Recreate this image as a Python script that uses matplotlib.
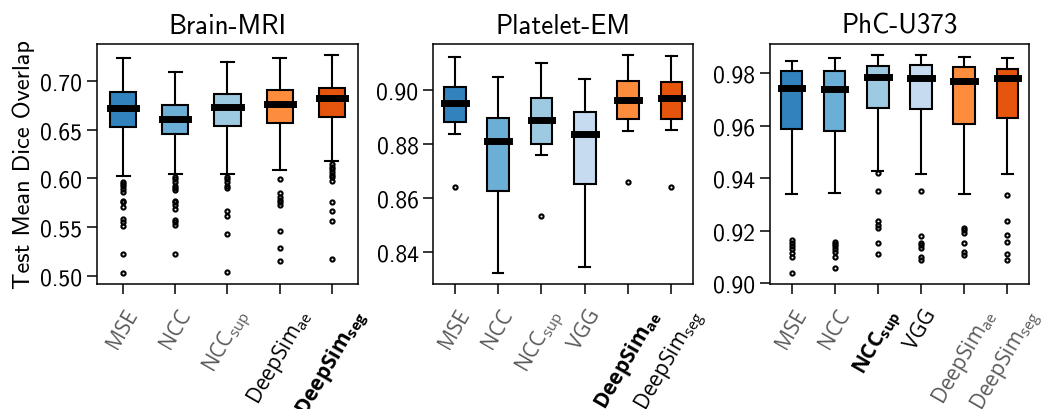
import matplotlib
matplotlib.use("Agg")
import matplotlib.pyplot as plt

plt.rcParams["font.family"] = ["cmss10", "DejaVu Sans"]
plt.rcParams["axes.formatter.use_mathtext"] = True
plt.rcParams["mathtext.fontset"] = "custom"
plt.rcParams["mathtext.rm"] = "Open Sans"
plt.rcParams["mathtext.bf"] = "Open Sans:bold"

# Box colours (tab20c blues / oranges).
colour_of = {
    "MSE": "#3182bd",
    "NCC": "#6baed6",
    "NCCsup": "#9ecae1",
    "VGG": "#c6dbef",
    "DeepSimae": "#fd8d3c",
    "DeepSimseg": "#e6550d",
}
label_of = {
    "MSE": "MSE",
    "NCC": "NCC",
    "NCCsup": r"$\mathrm{NCC}_{\mathrm{sup}}$",
    "VGG": "VGG",
    "DeepSimae": r"$\mathrm{DeepSim}_{\mathrm{ae}}$",
    "DeepSimseg": r"$\mathrm{DeepSim}_{\mathrm{seg}}$",
}
bold_label_of = {
    "NCCsup": r"$\mathbf{NCC}_{\mathbf{sup}}$",
    "DeepSimae": r"$\mathbf{DeepSim}_{\mathbf{ae}}$",
    "DeepSimseg": r"$\mathbf{DeepSim}_{\mathbf{seg}}$",
}
grey = "#5a5a5a"

# Brain-MRI
brain_methods = ["MSE", "NCC", "NCCsup", "DeepSimae", "DeepSimseg"]
brain_label_style = ["grey", "grey", "grey", "black", "bold"]
brain_yticks = [0.50, 0.55, 0.60, 0.65, 0.70]
brain_whishi = [0.7232, 0.7089, 0.7191, 0.7232, 0.7269]
brain_q3 = [0.6884, 0.6758, 0.6870, 0.6905, 0.6928]
brain_med = [0.6720, 0.6611, 0.6734, 0.6761, 0.6823]
brain_q1 = [0.6529, 0.6458, 0.6540, 0.6567, 0.6628]
brain_whislo = [0.6028, 0.6045, 0.6045, 0.6086, 0.6178]
brain_fliers = [
    [0.5967, 0.5943, 0.5919, 0.5892, 0.5864, 0.5772, 0.5755, 0.5711, 0.5581, 0.5558, 0.5510, 0.5223, 0.5029],
    [0.6018, 0.5994, 0.5967, 0.5926, 0.5899, 0.5885, 0.5772, 0.5755, 0.5728, 0.5684, 0.5575, 0.5551, 0.5520, 0.5223],
    [0.6018, 0.5994, 0.5960, 0.5926, 0.5902, 0.5670, 0.5612, 0.5431, 0.5039],
    [0.5994, 0.5851, 0.5806, 0.5782, 0.5755, 0.5728, 0.5462, 0.5285, 0.5148],
    [0.6151, 0.6123, 0.6096, 0.6069, 0.6035, 0.6011, 0.5977, 0.5755, 0.5670, 0.5568, 0.5169],
]

# Platelet-EM
platelet_methods = ["MSE", "NCC", "NCCsup", "VGG", "DeepSimae", "DeepSimseg"]
platelet_label_style = ["grey", "grey", "grey", "grey", "bold", "black"]
platelet_yticks = [0.84, 0.86, 0.88, 0.90]
platelet_whishi = [0.9124, 0.9050, 0.9101, 0.9043, 0.9132, 0.9129]
platelet_q3 = [0.9014, 0.8899, 0.8972, 0.8919, 0.9034, 0.9030]
platelet_med = [0.8952, 0.8811, 0.8891, 0.8838, 0.8963, 0.8973]
platelet_q1 = [0.8884, 0.8627, 0.8800, 0.8655, 0.8895, 0.8894]
platelet_whislo = [0.8839, 0.8323, 0.8761, 0.8345, 0.8850, 0.8855]
platelet_fliers = [[0.8643], [], [0.8535], [], [0.8661], [0.8643]]

# PhC-U373
phc_methods = ["MSE", "NCC", "NCCsup", "VGG", "DeepSimae", "DeepSimseg"]
phc_label_style = ["grey", "grey", "bold", "black", "grey", "grey"]
phc_yticks = [0.90, 0.92, 0.94, 0.96, 0.98]
phc_whishi = [0.9847, 0.9860, 0.9870, 0.9868, 0.9861, 0.9858]
phc_q3 = [0.9809, 0.9808, 0.9829, 0.9832, 0.9822, 0.9815]
phc_med = [0.9745, 0.9739, 0.9784, 0.9782, 0.9772, 0.9781]
phc_q1 = [0.9588, 0.9581, 0.9667, 0.9663, 0.9605, 0.9628]
phc_whislo = [0.9340, 0.9342, 0.9427, 0.9417, 0.9339, 0.9416]
phc_fliers = [
    [0.9166, 0.9153, 0.9140, 0.9128, 0.9115, 0.9099, 0.9038],
    [0.9158, 0.9150, 0.9140, 0.9131, 0.9120, 0.9100, 0.9057],
    [0.9418, 0.9352, 0.9235, 0.9222, 0.9210, 0.9153, 0.9112],
    [0.9350, 0.9180, 0.9154, 0.9145, 0.9135, 0.9099, 0.9086],
    [0.9209, 0.9202, 0.9191, 0.9151, 0.9118, 0.9108],
    [0.9337, 0.9237, 0.9185, 0.9156, 0.9109, 0.9089],
]

panels = [
    ("Brain-MRI", brain_methods, brain_label_style, brain_yticks, brain_whislo, brain_q1, brain_med, brain_q3, brain_whishi, brain_fliers),
    ("Platelet-EM", platelet_methods, platelet_label_style, platelet_yticks, platelet_whislo, platelet_q1, platelet_med, platelet_q3, platelet_whishi, platelet_fliers),
    ("PhC-U373", phc_methods, phc_label_style, phc_yticks, phc_whislo, phc_q1, phc_med, phc_q3, phc_whishi, phc_fliers),
]
axes_rects = [
    [0.0928, 0.3049, 0.2498, 0.5854],
    [0.4144, 0.3049, 0.2488, 0.5854],
    [0.7368, 0.3049, 0.2478, 0.5854],
]

fig = plt.figure(figsize=(10.45, 4.10), dpi=100)

for rect, (title, methods, styles, yticks, lo, q1, med, q3, hi, fl) in zip(axes_rects, panels):
    ax = fig.add_axes(rect)
    stats = []
    for i in range(len(methods)):
        stats.append({"whislo": lo[i], "q1": q1[i], "med": med[i], "q3": q3[i],
                      "whishi": hi[i], "fliers": fl[i]})
    bp = ax.bxp(stats, widths=0.5, patch_artist=True, showfliers=True,
                boxprops=dict(linewidth=1.5, edgecolor="black"),
                whiskerprops=dict(linewidth=1.5),
                capprops=dict(linewidth=1.5),
                medianprops=dict(color="black", linewidth=5, solid_capstyle="projecting"),
                flierprops=dict(marker="o", markersize=3, markerfacecolor="none",
                                markeredgecolor="black", markeredgewidth=1.5))
    for patch, m in zip(bp["boxes"], methods):
        patch.set_facecolor(colour_of[m])
    ax.set_title(title, fontsize=19.5, pad=8)
    ax.set_yticks(yticks)
    ax.set_yticklabels([f"{v:.2f}" for v in yticks])
    ax.tick_params(axis="both", length=7, width=1.1, labelsize=17)
    ax.tick_params(axis="x", pad=8)
    for sp in ax.spines.values():
        sp.set_linewidth(1.1)

    labels = [bold_label_of[m] if s == "bold" else label_of[m] for m, s in zip(methods, styles)]
    ax.set_xticks(range(1, len(methods) + 1))
    ax.set_xticklabels(labels, rotation=60, fontsize=15, family="Open Sans")
    for t, s in zip(ax.get_xticklabels(), styles):
        t.set_color(grey if s == "grey" else "black")

    if title == "Brain-MRI":
        ax.set_ylabel("Test Mean Dice Overlap", fontsize=17.5)

fig.savefig("out.png", dpi=100)
